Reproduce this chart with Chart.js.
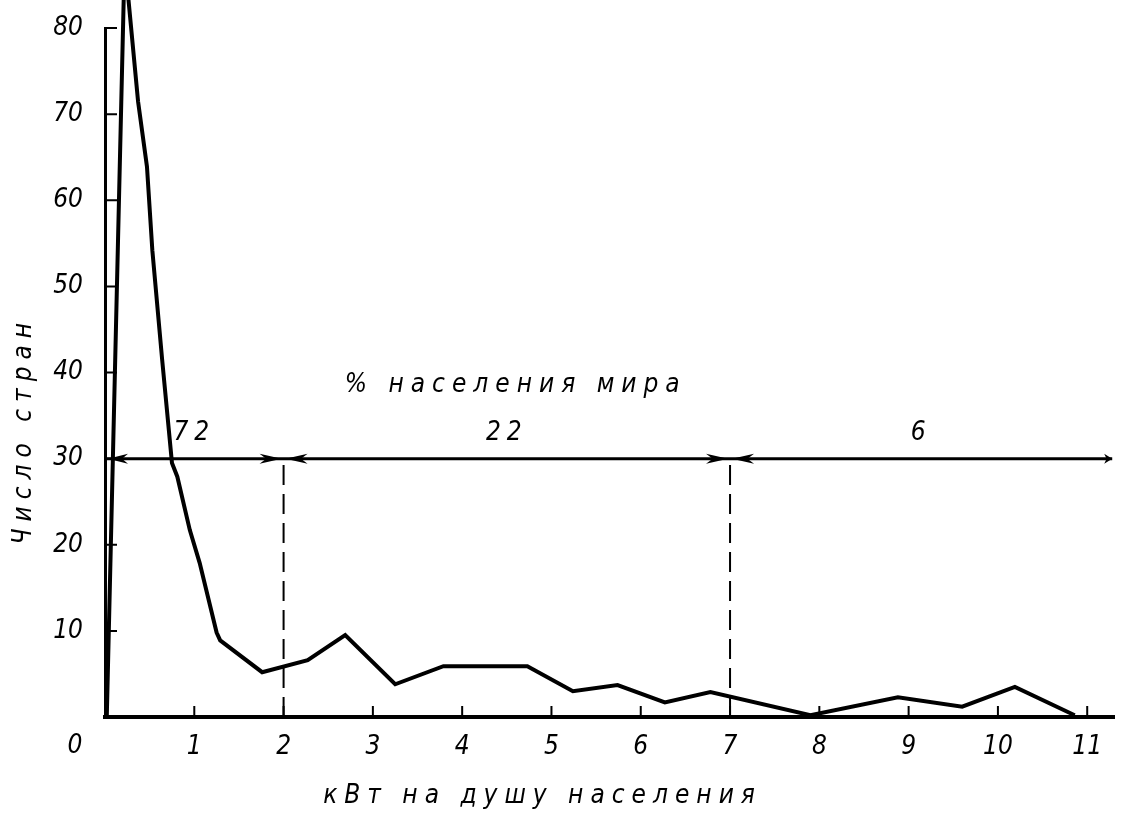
<!DOCTYPE html>
<html>
<head>
<meta charset="utf-8">
<script src="https://cdn.jsdelivr.net/npm/chart.js@4.4.0/dist/chart.umd.min.js"></script>
<style>
  html, body { margin: 0; padding: 0; background: #fff; }
  #wrap { width: 1131px; height: 820px; }
</style>
</head>
<body>
<div id="wrap"><canvas id="myChart"></canvas></div>
<script>
// kW per capita vs number of countries
const kwPerCapita = [0.02, 0.22, 0.37, 0.47, 0.53, 0.64, 0.75, 0.81, 0.95, 1.06, 1.25, 1.29, 1.76, 2.27, 2.69, 3.25, 3.79, 4.73, 5.24, 5.74, 6.27, 6.78, 7.9, 8.88, 9.6, 10.19, 10.86];
const countries   = [0, 88, 71.5, 63.9, 54.2, 41.5, 29.5, 27.9, 21.7, 17.9, 9.8, 8.9, 5.2, 6.6, 9.5, 3.8, 5.9, 5.9, 3.0, 3.7, 1.7, 2.9, 0.2, 2.3, 1.2, 3.5, 0.2];

const xTicks = [1, 2, 3, 4, 5, 6, 7, 8, 9, 10, 11];
const yTicks = [10, 20, 30, 40, 50, 60, 70, 80];

// population share bands
const bounds = [0, 2, 7, 11.28];
const shares = ['72', '22', '6'];
const arrowLevel = 30;

const font = '"DejaVu Sans Condensed", "DejaVu Sans", sans-serif';

const sketch = {
  id: 'sketch',
  afterDraw(chart) {
    const { ctx, scales: { x, y } } = chart;
    ctx.save();
    ctx.strokeStyle = '#000';
    ctx.fillStyle = '#000';

    // inward tick marks
    ctx.lineWidth = 2;
    ctx.beginPath();
    xTicks.forEach(v => {
      const px = x.getPixelForValue(v);
      ctx.moveTo(px, y.bottom);
      ctx.lineTo(px, y.bottom - 11);
    });
    yTicks.forEach(v => {
      const py = y.getPixelForValue(v);
      ctx.moveTo(x.left, py);
      ctx.lineTo(x.left + 12, py);
    });
    ctx.stroke();

    // arrowheads on the band line
    const ay = y.getPixelForValue(arrowLevel);
    const head = (tip, dir, len) => {
      ctx.beginPath();
      ctx.moveTo(tip, ay);
      ctx.lineTo(tip - dir * len, ay - 5);
      ctx.lineTo(tip - dir * len * 0.7, ay);
      ctx.lineTo(tip - dir * len, ay + 5);
      ctx.closePath();
      ctx.fill();
    };
    head(x.getPixelForValue(bounds[0]) + 3, -1, 20);
    for (let i = 1; i < bounds.length - 1; i++) {
      const p = x.getPixelForValue(bounds[i]);
      head(p - 2, 1, 22);
      head(p + 2, -1, 22);
    }
    head(x.getPixelForValue(bounds[bounds.length - 1]), 1, 8);

    // share labels
    ctx.textAlign = 'center';
    ctx.textBaseline = 'middle';
    ctx.font = 'italic 26px ' + font;
    ctx.letterSpacing = '6px';
    shares.forEach((s, i) => {
      const mid = (bounds[i] + bounds[i + 1]) / 2;
      ctx.fillText(s, x.getPixelForValue(mid), y.getPixelForValue(33));
    });
    ctx.letterSpacing = '7px';
    ctx.fillText('% населения мира', x.getPixelForValue(4.6), y.getPixelForValue(38.5));

    // origin label
    ctx.letterSpacing = '0px';
    ctx.fillText('0', x.left - 30, y.bottom + 29);

    // axis titles
    ctx.letterSpacing = '7px';
    ctx.fillText('кВт на душу населения', x.getPixelForValue(4.9), y.bottom + 79);
    ctx.translate(24, y.getPixelForValue(33.3));
    ctx.rotate(-Math.PI / 2);
    ctx.fillText('Число стран', 0, 0);
    ctx.restore();
  }
};

const ctx = document.getElementById('myChart').getContext('2d');
const myChart = new Chart(ctx, {
  type: 'line',
  data: {
    datasets: [
      {
        data: kwPerCapita.map((v, i) => ({ x: v, y: countries[i] })),
        borderColor: '#000',
        borderWidth: 4,
        pointRadius: 0,
        tension: 0,
        clip: false,
      },
      {
        data: [{ x: bounds[0], y: arrowLevel }, { x: bounds[3], y: arrowLevel }],
        borderColor: '#000',
        borderWidth: 3,
        pointRadius: 0,
      },
      {
        data: [{ x: bounds[1], y: 0 }, { x: bounds[1], y: arrowLevel }],
        borderColor: '#000',
        borderWidth: 2,
        borderDash: [20, 9],
        pointRadius: 0,
      },
      {
        data: [{ x: bounds[2], y: 0 }, { x: bounds[2], y: arrowLevel }],
        borderColor: '#000',
        borderWidth: 2,
        borderDash: [20, 9],
        pointRadius: 0,
      }
    ]
  },
  options: {
    responsive: true,
    maintainAspectRatio: false,
    animation: false,
    layout: { padding: { top: 28, right: 17, left: 0, bottom: 0 } },
    plugins: {
      legend: { display: false },
      tooltip: { enabled: false }
    },
    scales: {
      x: {
        type: 'linear',
        min: 0,
        max: 11.3,
        afterBuildTicks: scale => { scale.ticks = xTicks.map(v => ({ value: v })); },
        afterFit: scale => { scale.height = 103; scale.paddingLeft = 0; scale.paddingRight = 0; },
        grid: { display: true, drawOnChartArea: false, drawTicks: false },
        border: { display: true, color: '#000', width: 4 },
        ticks: {
          color: '#000',
          padding: 15,
          maxRotation: 0,
          font: { family: font, size: 26, style: 'italic' }
        }
      },
      y: {
        min: 0,
        max: 80,
        afterBuildTicks: scale => { scale.ticks = yTicks.map(v => ({ value: v })); },
        afterFit: scale => { scale.width = 105; scale.paddingTop = 0; scale.paddingBottom = 0; },
        grid: { display: true, drawOnChartArea: false, drawTicks: false },
        border: { display: true, color: '#000', width: 3 },
        ticks: {
          color: '#000',
          padding: 22,
          font: { family: font, size: 26, style: 'italic' }
        }
      }
    }
  },
  plugins: [sketch]
});
</script>
</body>
</html>
